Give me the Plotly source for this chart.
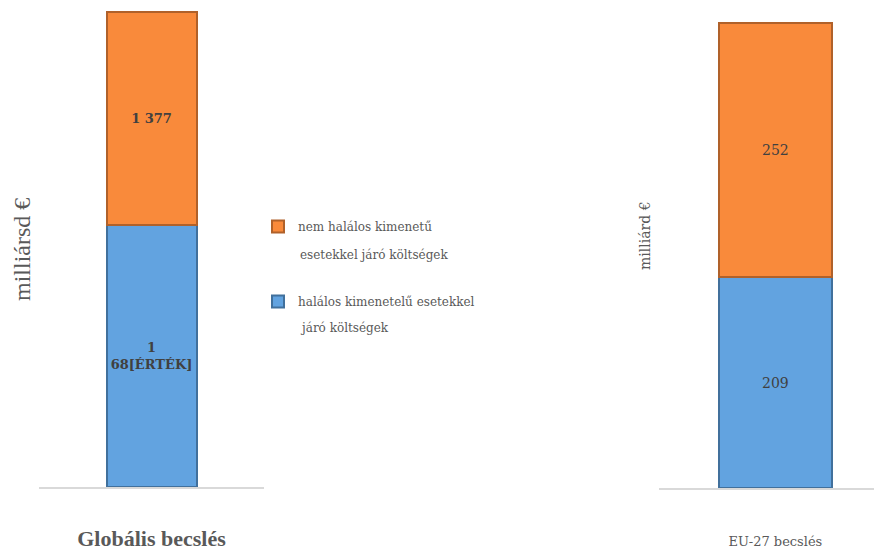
import plotly.graph_objects as go

# data
glob_cat = ["Globális becslés"]
eu_cat = ["EU-27 becslés"]
glob_fatal = [1690]
glob_nonfatal = [1377]
eu_fatal = [209]
eu_nonfatal = [252]
glob_fatal_label = ["1<br>68[ÉRTÉK]"]
glob_nonfatal_label = ["1 377"]
eu_fatal_label = ["209"]
eu_nonfatal_label = ["252"]
# legend names: first line goes in the legend, second line as annotation
name_fatal = ["halálos kimenetelű esetekkel", "járó költségek"]
name_nonfatal = ["nem halálos kimenetű", "esetekkel járó költségek"]

blue = "#62A3E0"
orange = "#F98A3B"
grey_txt = "#595959"
serif = "DejaVu Serif"

W, H = 882, 553
OFF = 8  # page body margin: the figure is drawn 8px right and down


def px(x):
    return (x - OFF) / W


def py(y):
    return 1 - (y - OFF) / H


fig = go.Figure()

fig.add_trace(go.Bar(
    x=glob_cat, y=glob_fatal, name=name_fatal[0], legendgroup="f", legendrank=2,
    marker=dict(color=blue, line=dict(color="#41709C", width=2)),
    width=0.40, text=glob_fatal_label, textposition="inside",
    insidetextanchor="middle",
    textfont=dict(family=serif, size=13, color="#404040", weight="bold"),
    xaxis="x", yaxis="y"))
fig.add_trace(go.Bar(
    x=glob_cat, y=glob_nonfatal, name=name_nonfatal[0], legendgroup="n", legendrank=1,
    marker=dict(color=orange, line=dict(color="#B0612A", width=2)),
    width=0.40, text=glob_nonfatal_label, textposition="inside",
    insidetextanchor="middle",
    textfont=dict(family=serif, size=13, color="#404040", weight="bold"),
    xaxis="x", yaxis="y"))
fig.add_trace(go.Bar(
    x=eu_cat, y=eu_fatal, name=name_fatal[0], legendgroup="f", legendrank=2,
    showlegend=False,
    marker=dict(color=blue, line=dict(color="#41709C", width=2)),
    width=0.51, text=eu_fatal_label, textposition="inside",
    insidetextanchor="middle",
    textfont=dict(family=serif, size=14, color="#404040"),
    xaxis="x2", yaxis="y2"))
fig.add_trace(go.Bar(
    x=eu_cat, y=eu_nonfatal, name=name_nonfatal[0], legendgroup="n", legendrank=1,
    showlegend=False,
    marker=dict(color=orange, line=dict(color="#B0612A", width=2)),
    width=0.51, text=eu_nonfatal_label, textposition="inside",
    insidetextanchor="middle",
    textfont=dict(family=serif, size=14, color="#404040"),
    xaxis="x2", yaxis="y2"))

legend_font = dict(family=serif, size=12, color=grey_txt)

fig.update_layout(
    width=W, height=H,
    margin=dict(l=0, r=0, t=0, b=0, autoexpand=False),
    paper_bgcolor="white", plot_bgcolor="white",
    barmode="stack",
    xaxis=dict(domain=[px(39), px(264)], range=[-0.5, 0.5],
               showline=True, linecolor="#D9D9D9", linewidth=1.5,
               ticks="", ticklabelstandoff=31,
               tickfont=dict(family="Liberation Serif", size=22,
                             color=grey_txt, weight="bold")),
    yaxis=dict(domain=[py(487), 1], range=[0, 3093], visible=False),
    xaxis2=dict(domain=[px(659), px(882)], range=[-0.522, 0.478],
                showline=True, linecolor="#D9D9D9", linewidth=1.5,
                ticks="", ticklabelstandoff=41,
                tickfont=dict(family=serif, size=13, color=grey_txt),
                anchor="y2"),
    yaxis2=dict(domain=[py(488), 1], range=[0, 476], visible=False,
                anchor="x2"),
    legend=dict(x=px(258), y=py(212), xanchor="left", yanchor="top",
                traceorder="grouped", tracegroupgap=56,
                font=legend_font, itemwidth=30,
                bgcolor="rgba(0,0,0,0)"),
    showlegend=True,
    annotations=[
        dict(text="milliársd €", x=px(22), y=py(250),
             xref="paper", yref="paper", textangle=-90, showarrow=False,
             xanchor="center", yanchor="middle",
             font=dict(family="Liberation Serif", size=24, color=grey_txt)),
        dict(text="milliárd €", x=px(645), y=py(236),
             xref="paper", yref="paper", textangle=-90, showarrow=False,
             xanchor="center", yanchor="middle",
             font=dict(family=serif, size=14, color=grey_txt)),
        dict(text=name_nonfatal[1], x=px(298), y=py(255),
             xref="paper", yref="paper", xanchor="left", yanchor="middle",
             showarrow=False, font=legend_font),
        dict(text=name_fatal[1], x=px(298), y=py(328),
             xref="paper", yref="paper", xanchor="left", yanchor="middle",
             showarrow=False, font=legend_font),
    ],
)

fig.write_html("out.html")
